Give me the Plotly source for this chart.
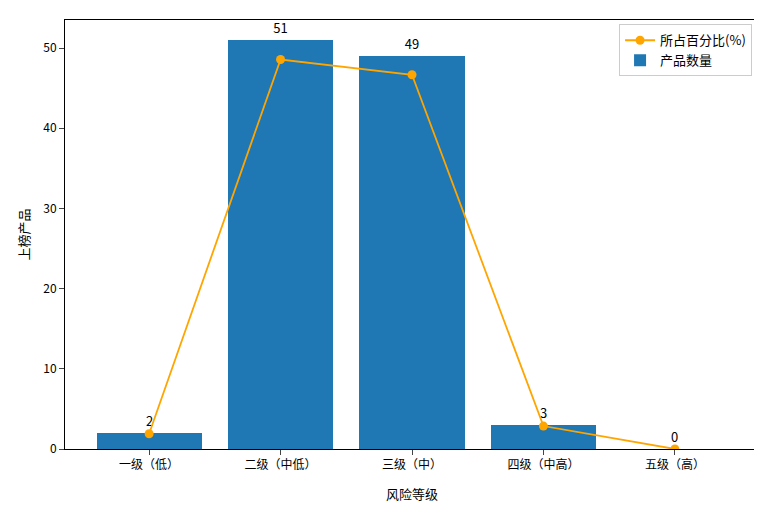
import plotly.graph_objects as go

categories = ["一级（低）", "二级（中低）", "三级（中）", "四级（中高）", "五级（高）"]
counts = [2, 51, 49, 3, 0]
percents = [1.90, 48.57, 46.67, 2.86, 0.0]

fig = go.Figure()
fig.add_trace(go.Bar(x=list(range(5)), y=counts, width=0.8, marker_color="#1f77b4",
                     marker_line_width=0,
                     name="产品数量", text=[str(c) for c in counts], textposition="outside",
                     textfont=dict(size=13, color="black"), cliponaxis=False))
fig.add_trace(go.Scatter(x=list(range(5)), y=percents, mode="lines+markers",
                         line=dict(color="orange", width=1.8), marker=dict(size=9, color="orange"),
                         name="所占百分比(%)"))
fig.update_layout(
    width=762, height=515, plot_bgcolor="white", paper_bgcolor="white",
    margin=dict(l=57, r=11, t=12, b=74, autoexpand=False),
    font=dict(family="Noto Sans CJK SC", size=12, color="black"),
    bargap=0, showlegend=True,
    legend=dict(x=0.99, y=0.99, xanchor="right", yanchor="top", bordercolor="#cccccc",
                borderwidth=1, traceorder="reversed", font=dict(size=13)),
    xaxis=dict(range=[-0.64, 4.64], tickvals=list(range(5)), ticktext=categories,
               showline=True, mirror=True, linecolor="black", ticks="outside", automargin=False,
               title=dict(text="风险等级", standoff=18, font=dict(size=13)), showgrid=False, zeroline=False),
    yaxis=dict(range=[0, 53.5], tickvals=[0, 10, 20, 30, 40, 50], showline=True, mirror=True,
               linecolor="black", ticks="outside", automargin=False,
               title=dict(text="上榜产品", font=dict(size=13), standoff=10),
               showgrid=False, zeroline=False),
)
fig.write_html("out.html")
